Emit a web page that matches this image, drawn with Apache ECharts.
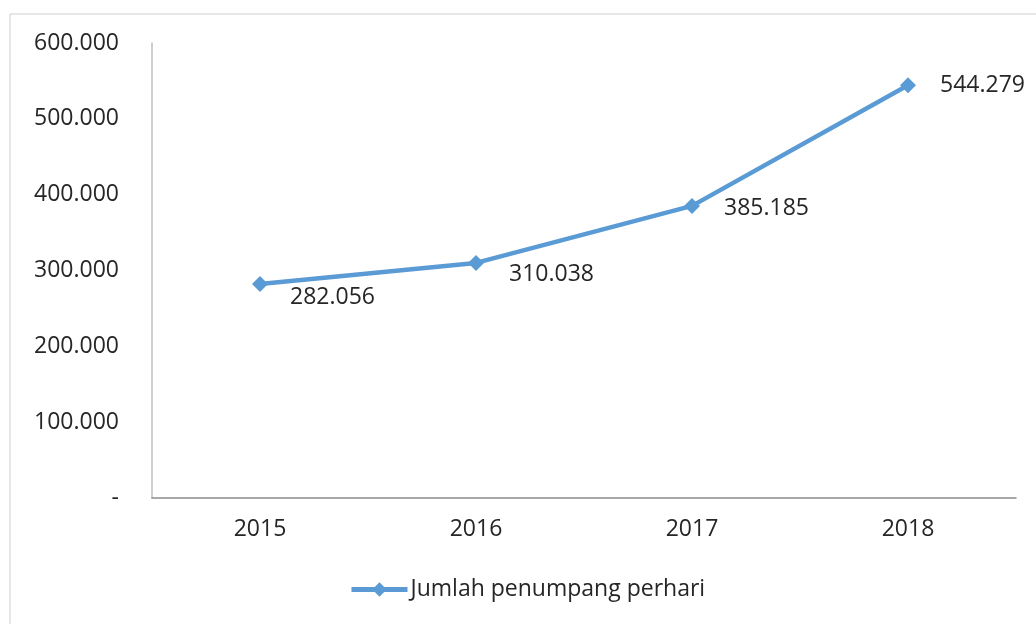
<!DOCTYPE html>
<html>
<head>
<meta charset="utf-8">
<script src="https://cdn.jsdelivr.net/npm/echarts@6/dist/echarts.min.js"></script>
<style>
html,body{margin:0;padding:0;background:#fff;}
#chart{width:1036px;height:624px;}
</style>
</head>
<body>
<div id="chart"></div>
<script>
const categories = ['2015', '2016', '2017', '2018'];
const seriesName = 'Jumlah penumpang perhari';
const values = [282056, 310038, 385185, 544279];
const yTicks = [0, 100000, 200000, 300000, 400000, 500000, 600000];

// label offsets (style only)
const labelOffsets = [[4, 13], [7, 12], [6, 3], [6, 0]];

function fmt(v) {
  if (v === 0) return '-';
  return String(v).replace(/\B(?=(\d{3})+(?!\d))/g, '.');
}

const FONT = '"Open Sans", sans-serif';
const FS = 23;
const TXT = '#262626';
const chart = echarts.init(document.getElementById('chart'));
chart.setOption({
  backgroundColor: '#fff',
  animation: false,
  graphic: [{
    type: 'rect',
    shape: { x: 10, y: 14, width: 1040, height: 640 },
    style: { fill: 'none', stroke: '#cfcfcf', lineWidth: 1 },
    z: -1
  }],
  grid: { left: 152, right: 20, top: 43, bottom: 126 },
  legend: {
    bottom: 18,
    left: 344,
    itemWidth: 56,
    itemHeight: 18,
    itemGap: 4,
    lineStyle: { width: 5 },
    textStyle: { fontFamily: FONT, fontSize: FS, color: TXT, padding: [0,0,0,-2] },
    data: [seriesName]
  },
  xAxis: {
    type: 'category',
    data: categories,
    boundaryGap: true,
    axisLine: { show: true, lineStyle: { color: '#8c8c8c', width: 1.5 } },
    axisTick: { show: false },
    axisLabel: { fontFamily: FONT, fontSize: FS, color: TXT, margin: 20 }
  },
  yAxis: {
    type: 'value',
    min: 0,
    max: 600000,
    interval: 100000,
    axisLine: { show: true, lineStyle: { color: '#bfbfbf', width: 1.5 } },
    axisTick: { show: false },
    splitLine: { show: false },
    axisLabel: {
      fontFamily: FONT, fontSize: FS, color: TXT, margin: 33,
      formatter: v => yTicks.includes(v) ? fmt(v) : ''
    }
  },
  series: [{
    name: seriesName,
    type: 'line',
    data: values.map((v, i) => ({
      value: v,
      label: { offset: labelOffsets[i] }
    })),
    symbol: 'diamond',
    symbolSize: 16,
    lineStyle: { color: '#5b9bd5', width: 4.5 },
    itemStyle: { color: '#5b9bd5' },
    label: {
      show: true,
      position: 'right',
      distance: 18,
      fontFamily: FONT,
      fontSize: FS,
      color: TXT,
      formatter: p => fmt(p.value)
    }
  }]
});
</script>
</body>
</html>
